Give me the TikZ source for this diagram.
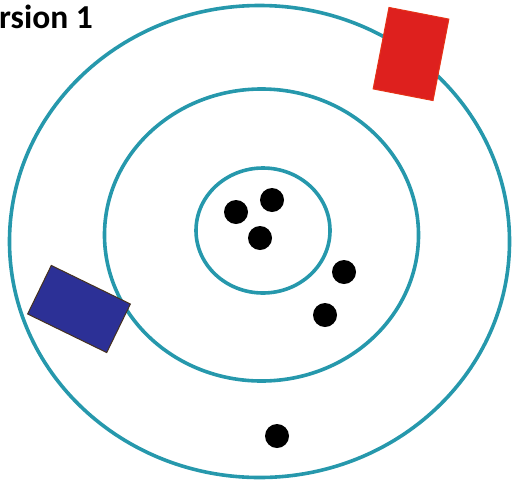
\documentclass[tikz,border=0pt]{standalone}
\usepackage{fontspec}
\setmainfont{Carlito}
\usetikzlibrary{positioning}
\definecolor{ringteal}{RGB}{38,152,172}
\definecolor{padred}{RGB}{222,32,30}
\definecolor{padblue}{RGB}{44,48,150}
\definecolor{padedge}{RGB}{70,50,30}
\tikzset{
  ring/.style={draw=ringteal,line width=3.6pt},
  dot/.style={circle,fill=black,inner sep=0pt,minimum size=24pt},
  pad/.style={inner sep=0pt,line width=1pt}
}

\begin{document}
\begin{tikzpicture}[x=1pt,y=-1pt]
  \useasboundingbox (0,0) rectangle (518,482);
  \clip (0,0) rectangle (518,482);
  % title, as far as it shows
  \node[anchor=base west,inner sep=0pt,font=\bfseries\fontsize{33.5}{40}\selectfont] (title) at (-1,28) {rsion 1};
  % rings
  \draw[ring] (259.5,241.5) ellipse[x radius=250,y radius=236];
  \draw[ring] (261.5,235) ellipse[x radius=157,y radius=146];
  \draw[ring] (263,230.5) ellipse[x radius=67,y radius=62.5];
  % pads on the rings
  \node[pad,fill=padred,draw=padred!80!orange,minimum width=61pt,minimum height=83pt,rotate=-11] (redpad) at (411,54) {};
  \node[pad,fill=padblue,draw=padedge,minimum width=88pt,minimum height=54pt,rotate=-26] (bluepad) at (79,309) {};
  % dots
  \node[dot] (d1) at (236,212) {};
  \node[dot] (d2) at (272,200) {};
  \node[dot] (d3) at (260,238) {};
  \node[dot] (d4) at (344,272) {};
  \node[dot] (d5) at (325,315) {};
  \node[dot] (d6) at (277,436) {};
\end{tikzpicture}
\end{document}
